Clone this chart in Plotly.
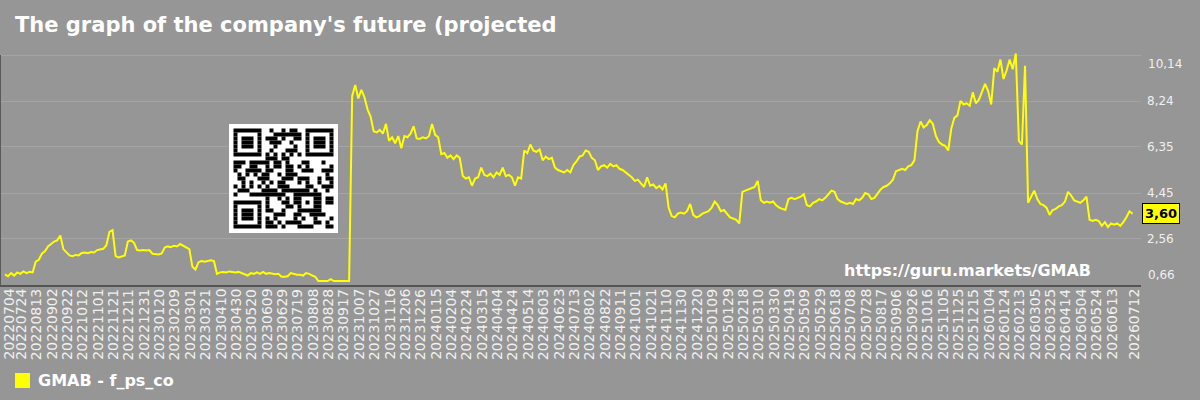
import plotly.graph_objects as go
import pandas as pd

# ---------------- data ----------------
TITLE = "The graph of the company's future (projected"
SERIES_NAME = "GMAB - f_ps_co"
WATERMARK = "https://guru.markets/GMAB"
LAST_LABEL = "3,60"
LAST_VALUE = 3.60

start_date = "2022-07-04"
step_days = 4

values = [
    1.10, 1.02, 1.15, 1.05, 1.18, 1.12, 1.22, 1.15, 1.20, 1.18,
    1.62, 1.70, 1.95, 2.05, 2.25, 2.35, 2.45, 2.50, 2.70, 2.14,
    2.00, 1.88, 1.85, 1.90, 1.88, 1.98, 2.00, 1.97, 2.02, 2.00,
    2.10, 2.12, 2.15, 2.30, 2.85, 2.92, 1.85, 1.80, 1.85, 1.88,
    2.45, 2.50, 2.40, 2.10, 2.08, 2.10, 2.08, 2.10, 1.95, 1.95,
    1.92, 1.96, 2.20, 2.25, 2.22, 2.28, 2.25, 2.35, 2.28, 2.20,
    2.14, 1.41, 1.30, 1.60, 1.65, 1.62, 1.66, 1.68, 1.65, 1.12,
    1.18, 1.20, 1.18, 1.22, 1.20, 1.18, 1.20, 1.15, 1.12, 1.05,
    1.15, 1.12, 1.18, 1.12, 1.20, 1.12, 1.15, 1.12, 1.10, 1.12,
    1.00, 1.00, 1.02, 1.15, 1.10, 1.08, 1.08, 1.05, 1.15, 1.12,
    1.05, 1.00, 0.82, 0.82, 0.82, 0.82, 0.90, 0.82, 0.82, 0.82,
    0.82, 0.82, 0.82, 8.45, 8.90, 8.35, 8.70, 8.40, 7.90, 7.60,
    7.00, 6.95, 7.05, 6.90, 7.30, 6.60, 6.75, 6.50, 6.80, 6.30,
    6.80, 6.75, 6.90, 7.20, 6.70, 6.68, 6.75, 6.70, 6.80, 7.30,
    6.85, 6.75, 6.05, 6.10, 5.90, 6.00, 5.85, 6.00, 5.90, 5.15,
    5.05, 5.10, 4.75, 5.05, 5.10, 5.50, 5.20, 5.15, 5.25, 5.10,
    5.30, 5.20, 5.50, 5.15, 5.20, 5.10, 4.75, 5.10, 5.05, 6.20,
    6.10, 6.45, 6.20, 6.15, 6.25, 5.80, 5.95, 5.85, 5.90, 5.50,
    5.40, 5.35, 5.30, 5.40, 5.30, 5.60, 5.75, 5.95, 6.00, 6.20,
    6.15, 5.90, 5.80, 5.40, 5.55, 5.60, 5.50, 5.65, 5.55, 5.60,
    5.45, 5.40, 5.30, 5.20, 5.10, 4.95, 5.00, 4.85, 4.70, 5.10,
    4.75, 4.80, 4.65, 4.75, 4.60, 4.85, 3.85, 3.50, 3.45, 3.60,
    3.65, 3.60, 3.70, 4.00, 3.55, 3.45, 3.50, 3.60, 3.65, 3.70,
    3.85, 4.10, 3.95, 3.70, 3.75, 3.60, 3.45, 3.40, 3.35, 3.20,
    4.50, 4.55, 4.60, 4.65, 4.70, 4.95, 4.15, 4.05, 4.10, 4.05,
    4.10, 3.95, 3.85, 3.80, 3.75, 4.20, 4.25, 4.20, 4.25, 4.30,
    4.40, 3.95, 3.90, 4.05, 4.10, 4.20, 4.15, 4.25, 4.40, 4.55,
    4.50, 4.20, 4.10, 4.05, 4.00, 4.05, 4.00, 4.20, 4.15, 4.25,
    4.45, 4.40, 4.20, 4.25, 4.45, 4.60, 4.70, 4.75, 4.85, 5.00,
    5.35, 5.40, 5.45, 5.40, 5.55, 5.60, 5.80, 7.00, 7.40, 7.15,
    7.25, 7.45, 7.30, 6.80, 6.55, 6.45, 6.40, 6.20, 7.10, 7.55,
    7.65, 8.25, 8.10, 8.15, 8.05, 8.60, 8.15, 8.30, 8.60, 8.95,
    8.65, 8.10, 9.60, 9.45, 9.95, 9.15, 9.50, 9.95, 9.55, 10.20,
    6.60, 6.45, 9.70, 4.05, 4.30, 4.55, 4.20, 4.00, 3.95, 3.85,
    3.55, 3.75, 3.80, 3.90, 3.95, 4.10, 4.50, 4.35, 4.15, 4.10,
    4.05, 4.15, 4.30, 3.35, 3.30, 3.35, 3.30, 3.10, 3.25, 3.05,
    3.20, 3.15, 3.20, 3.10, 3.25, 3.45, 3.70, 3.60,
]

y_ticks = [0.66, 2.56, 4.45, 6.35, 8.24, 10.14]
y_tick_labels = ["0,66", "2,56", "4,45", "6,35", "8,24", "10,14"]

x_tick_labels = [
    "20220704", "20220724", "20220813", "20220902", "20220922", "20221012",
    "20221101", "20221121", "20221211", "20221231", "20230120", "20230209",
    "20230301", "20230321", "20230410", "20230430", "20230520", "20230609",
    "20230629", "20230719", "20230808", "20230828", "20230917", "20231007",
    "20231027", "20231116", "20231206", "20231226", "20240115", "20240204",
    "20240224", "20240315", "20240404", "20240424", "20240514", "20240603",
    "20240623", "20240713", "20240802", "20240822", "20240911", "20241001",
    "20241021", "20241110", "20241130", "20241220", "20250109", "20250129",
    "20250218", "20250310", "20250330", "20250419", "20250509", "20250529",
    "20250618", "20250708", "20250728", "20250817", "20250906", "20250926",
    "20251016", "20251105", "20251125", "20251215", "20260104", "20260124",
    "20260213", "20260305", "20260325", "20260414", "20260504", "20260524",
    "20260613", "20260712",
]

dates = pd.date_range(start_date, periods=len(values), freq=f"{step_days}D")
tick_dates = [pd.to_datetime(s, format="%Y%m%d") for s in x_tick_labels]

# ---------------- layout constants ----------------
W, H = 1200, 400
ML, MR, MT, MB = 0, 59, 50, 115
PW, PH = W - ML - MR, H - MT - MB
BG = "#969696"
TXT = "#f0f0f0"
YELLOW = "#ffff00"
FONT = "DejaVu Sans"


def px(x):
    return (x - ML) / PW


def py(y):
    return (H - MB - y) / PH


# ---------------- QR code (real encoder, version 2-L, mask 0) ----------------
def qr_matrix(text):
    data = text.encode("utf-8")
    n = 25
    ndata, nec = 34, 10
    bits = []

    def add(v, l):
        for k in range(l - 1, -1, -1):
            bits.append((v >> k) & 1)

    add(0b0100, 4)
    add(len(data), 8)
    for b in data:
        add(b, 8)
    add(0, min(4, ndata * 8 - len(bits)))
    while len(bits) % 8:
        bits.append(0)
    cw = [int("".join(map(str, bits[i:i + 8])), 2) for i in range(0, len(bits), 8)]
    pads = [0xEC, 0x11]
    k = 0
    while len(cw) < ndata:
        cw.append(pads[k % 2])
        k += 1
    exp = [0] * 512
    log = [0] * 256
    x = 1
    for i in range(255):
        exp[i] = x
        log[x] = i
        x <<= 1
        if x & 0x100:
            x ^= 0x11D
    for i in range(255, 512):
        exp[i] = exp[i - 255]

    def mul(a, b):
        if a == 0 or b == 0:
            return 0
        return exp[log[a] + log[b]]

    gen = [1]
    for i in range(nec):
        new = [0] * (len(gen) + 1)
        for j, g in enumerate(gen):
            new[j] ^= g
            new[j + 1] ^= mul(g, exp[i])
        gen = new
    msg = cw + [0] * nec
    for i in range(ndata):
        c = msg[i]
        if c:
            for j in range(1, len(gen)):
                msg[i + j] ^= mul(gen[j], c)
    allcw = cw + msg[ndata:]

    M = [[0] * n for _ in range(n)]
    F = [[False] * n for _ in range(n)]

    def setf(r, c, v):
        M[r][c] = 1 if v else 0
        F[r][c] = True

    def finder(r0, c0):
        for dr in range(-1, 8):
            for dc in range(-1, 8):
                r, c = r0 + dr, c0 + dc
                if 0 <= r < n and 0 <= c < n:
                    inside = 0 <= dr <= 6 and 0 <= dc <= 6
                    v = inside and (dr in (0, 6) or dc in (0, 6) or (2 <= dr <= 4 and 2 <= dc <= 4))
                    setf(r, c, v)

    finder(0, 0)
    finder(0, n - 7)
    finder(n - 7, 0)
    for i in range(n):
        if not F[6][i]:
            setf(6, i, i % 2 == 0)
        if not F[i][6]:
            setf(i, 6, i % 2 == 0)
    for dr in range(-2, 3):
        for dc in range(-2, 3):
            setf(18 + dr, 18 + dc, max(abs(dr), abs(dc)) != 1)
    fdata = (1 << 3) | 0
    rem = fdata
    for _ in range(10):
        rem = (rem << 1) ^ ((rem >> 9) * 0x537)
    fbits = ((fdata << 10) | rem) ^ 0x5412

    def gb(i):
        return (fbits >> i) & 1

    for i in range(6):
        setf(i, 8, gb(i))
    setf(7, 8, gb(6))
    setf(8, 8, gb(7))
    setf(8, 7, gb(8))
    for i in range(9, 15):
        setf(8, 14 - i, gb(i))
    for i in range(8):
        setf(8, n - 1 - i, gb(i))
    for i in range(8, 15):
        setf(n - 15 + i, 8, gb(i))
    setf(n - 8, 8, 1)

    idx = 0
    total = len(allcw) * 8
    right = n - 1
    while right >= 1:
        if right == 6:
            right = 5
        for vert in range(n):
            for j in range(2):
                c = right - j
                upward = ((right + 1) & 2) == 0
                r = n - 1 - vert if upward else vert
                if not F[r][c] and idx < total:
                    M[r][c] = (allcw[idx >> 3] >> (7 - (idx & 7))) & 1
                    idx += 1
        right -= 2
    for r in range(n):
        for c in range(n):
            if not F[r][c] and (r + c) % 2 == 0:
                M[r][c] ^= 1
    return M


qr = qr_matrix(WATERMARK)
QR_X0, QR_Y0, MOD = 233.5, 128.5, 4.0
QR_BOX = (229, 124, 338, 233)

shapes = []
shapes.append(dict(type="rect", xref="paper", yref="paper",
                   x0=px(QR_BOX[0]), x1=px(QR_BOX[2]), y0=py(QR_BOX[3]), y1=py(QR_BOX[1]),
                   fillcolor="white", line=dict(width=0), layer="above"))
for r, row in enumerate(qr):
    c = 0
    while c < len(row):
        if row[c]:
            c1 = c
            while c1 < len(row) and row[c1]:
                c1 += 1
            shapes.append(dict(type="rect", xref="paper", yref="paper",
                               x0=px(QR_X0 + c * MOD), x1=px(QR_X0 + c1 * MOD),
                               y0=py(QR_Y0 + (r + 1) * MOD), y1=py(QR_Y0 + r * MOD),
                               fillcolor="black", line=dict(width=0), layer="above"))
            c = c1
        else:
            c += 1

# left border line
shapes.append(dict(type="line", xref="paper", yref="paper", x0=0, x1=0, y0=0, y1=py(55),
                   line=dict(color="#5a5a5a", width=2)))
# legend swatch
shapes.append(dict(type="rect", xref="paper", yref="paper",
                   x0=px(15), x1=px(30), y0=py(388), y1=py(373),
                   fillcolor=YELLOW, line=dict(width=0)))

# ---------------- figure ----------------
fig = go.Figure()
fig.add_trace(go.Scatter(x=dates, y=values, mode="lines", name=SERIES_NAME,
                         line=dict(color=YELLOW, width=2), showlegend=False,
                         hoverinfo="skip"))

annotations = [
    dict(text=f"<b>{SERIES_NAME}</b>", xref="paper", yref="paper", x=px(36), y=py(380),
         xanchor="left", yanchor="middle", showarrow=False,
         font=dict(family=FONT, size=16, color="white")),
    dict(text=f"<b>{WATERMARK}</b>", xref="paper", yref="paper", x=px(1093), y=py(270),
         xanchor="right", yanchor="middle", showarrow=False,
         font=dict(family=FONT, size=16, color="white")),
    dict(text=f"<b>{LAST_LABEL}</b>", xref="paper", yref="y", x=1, y=LAST_VALUE,
         xanchor="left", yanchor="middle", showarrow=False, xshift=1,
         bgcolor=YELLOW, bordercolor="black", borderwidth=1, borderpad=2,
         font=dict(family=FONT, size=13, color="black")),
    dict(text=y_tick_labels[-1], xref="paper", yref="y", x=1, y=y_ticks[-1],
         xanchor="left", yanchor="middle", showarrow=False, xshift=5, yshift=-9,
         font=dict(family=FONT, size=12, color=TXT)),
    dict(text=y_tick_labels[0], xref="paper", yref="y", x=1, y=y_ticks[0],
         xanchor="left", yanchor="middle", showarrow=False, xshift=5, yshift=10,
         font=dict(family=FONT, size=12, color=TXT)),
]
# x-axis date labels (every one shown, rotated)
for i, (d, lab) in enumerate(zip(tick_dates, x_tick_labels)):
    ann = dict(text=lab, xref="x", yref="paper", x=d, y=0,
               xanchor="center", yanchor="top", textangle=-90,
               showarrow=False, yshift=-3, borderpad=0,
               font=dict(family=FONT, size=14, color=TXT))
    if i == 0:
        ann.update(xref="paper", x=0, xanchor="left", xshift=-1)
    annotations.append(ann)

fig.update_layout(
    width=W, height=H,
    margin=dict(l=ML, r=MR, t=MT, b=MB),
    paper_bgcolor=BG, plot_bgcolor=BG,
    font=dict(family=FONT, color=TXT),
    title=dict(text=f"<b>{TITLE}</b>", x=15 / W, xref="container", xanchor="left",
               y=1 - 25 / H, yref="container", yanchor="middle",
               font=dict(family=FONT, size=21, color="white")),
    showlegend=False,
    shapes=shapes,
    annotations=annotations,
    xaxis=dict(type="date", range=["2022-06-27 12:00", "2026-07-22"],
               showticklabels=False,
               showgrid=False, zeroline=False, showline=True,
               linecolor="#555555", linewidth=2, ticks=""),
    yaxis=dict(side="right", range=[y_ticks[0], y_ticks[0] + (y_ticks[-1] - y_ticks[0]) * PH / 230],
               tickvals=y_ticks, ticktext=[""] + y_tick_labels[1:-1] + [""],
               tickfont=dict(family=FONT, size=12, color=TXT),
               showgrid=True, gridcolor="#a4a4a4", gridwidth=1,
               zeroline=False, showline=False, ticks="", ticklabelstandoff=5),
)

fig.write_html("out.html")
